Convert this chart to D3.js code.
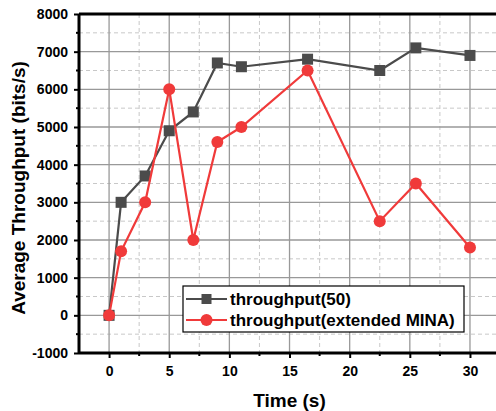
<!DOCTYPE html>
<html>
<head>
<meta charset="utf-8">
<script src="https://cdn.jsdelivr.net/npm/d3@7"></script>
<style>
  body { margin: 0; background: #fff; }
  text { font-family: "Liberation Sans", Arial, sans-serif; font-weight: bold; }
</style>
</head>
<body>
<div id="chart"></div>
<script>
// Data
const times = [0, 1, 3, 5, 7, 9, 11, 16.5, 22.5, 25.5, 30];
const throughput50 = [0, 3000, 3700, 4900, 5400, 6700, 6600, 6800, 6500, 7100, 6900];
const throughputMina = [0, 1700, 3000, 6000, 2000, 4600, 5000, 6500, 2500, 3500, 1800];
const seriesNames = ["throughput(50)", "throughput(extended MINA)"];
const xTicks = [0, 5, 10, 15, 20, 25, 30];
const yTicks = [-1000, 0, 1000, 2000, 3000, 4000, 5000, 6000, 7000, 8000];

const W = 496, H = 411;
const plotLeft = 79, plotTop = 14, plotBottom = 353;

const svg = d3.select("#chart").append("svg")
    .attr("width", W)
    .attr("height", H);

// Scales
const x = d3.scaleLinear().domain([-2.5, 32.5]).range([plotLeft, plotLeft + 35 * 12.03]);
const y = d3.scaleLinear().domain([-1000, 8000]).range([plotBottom, plotTop]);

// Minor grid (dashed)
const xMinor = d3.range(-2.5, 33, 2.5).filter(v => v % 5 !== 0);
const yMinor = d3.range(-500, 8000, 1000);

svg.append("g").selectAll("line").data(xMinor).join("line")
    .attr("x1", d => x(d)).attr("x2", d => x(d))
    .attr("y1", plotTop).attr("y2", plotBottom)
    .attr("stroke", "#c8c8c8").attr("stroke-width", 1)
    .attr("stroke-dasharray", "4,3");

svg.append("g").selectAll("line").data(yMinor).join("line")
    .attr("x1", plotLeft).attr("x2", W)
    .attr("y1", d => y(d)).attr("y2", d => y(d))
    .attr("stroke", "#c8c8c8").attr("stroke-width", 1)
    .attr("stroke-dasharray", "4,3");

// Major grid (solid)
svg.append("g").selectAll("line").data(d3.range(0, 33, 5)).join("line")
    .attr("x1", d => x(d)).attr("x2", d => x(d))
    .attr("y1", plotTop).attr("y2", plotBottom)
    .attr("stroke", "#999").attr("stroke-width", 1.3);

svg.append("g").selectAll("line").data(yTicks.filter(v => v > -1000)).join("line")
    .attr("x1", plotLeft).attr("x2", W)
    .attr("y1", d => y(d)).attr("y2", d => y(d))
    .attr("stroke", "#999").attr("stroke-width", 1.3);

// Series
const line = d3.line()
    .x(d => x(d[0]))
    .y(d => y(d[1]));

const dataBlack = times.map((t, i) => [t, throughput50[i]]);
const dataRed = times.map((t, i) => [t, throughputMina[i]]);
const black = "#4b4b4b", red = "#f03a3a";

svg.append("path")
    .datum(dataBlack)
    .attr("fill", "none")
    .attr("stroke", black)
    .attr("stroke-width", 2.2)
    .attr("d", line);

svg.append("g").selectAll("rect").data(dataBlack).join("rect")
    .attr("x", d => x(d[0]) - 5.5)
    .attr("y", d => y(d[1]) - 5.5)
    .attr("width", 11).attr("height", 11)
    .attr("fill", black);

svg.append("path")
    .datum(dataRed)
    .attr("fill", "none")
    .attr("stroke", red)
    .attr("stroke-width", 2.2)
    .attr("d", line);

svg.append("g").selectAll("circle").data(dataRed).join("circle")
    .attr("cx", d => x(d[0]))
    .attr("cy", d => y(d[1]))
    .attr("r", 6)
    .attr("fill", red);

// Axes
const plain = d => String(d);

const xAxis = svg.append("g")
    .attr("transform", `translate(0, ${plotBottom})`)
    .call(d3.axisBottom(x).tickValues(xTicks).tickFormat(plain).tickSize(5).tickPadding(8));

svg.append("g").selectAll("line").data(xMinor.filter(v => v > -2.5)).join("line")
    .attr("x1", d => x(d)).attr("x2", d => x(d))
    .attr("y1", plotBottom).attr("y2", plotBottom + 3)
    .attr("stroke", "#000").attr("stroke-width", 2);

const yAxis = svg.append("g")
    .attr("transform", `translate(${plotLeft}, 0)`)
    .call(d3.axisLeft(y).tickValues(yTicks).tickFormat(plain).tickSize(5).tickPadding(6));

svg.append("g").selectAll("line").data(yMinor).join("line")
    .attr("x1", plotLeft - 3).attr("x2", plotLeft)
    .attr("y1", d => y(d)).attr("y2", d => y(d))
    .attr("stroke", "#000").attr("stroke-width", 2);

[xAxis, yAxis].forEach(a => {
    a.select(".domain").attr("stroke", "#000").attr("stroke-width", 3);
    a.selectAll(".tick line").attr("stroke", "#000").attr("stroke-width", 2);
    a.selectAll(".tick text")
        .attr("font-size", 14)
        .attr("font-family", "Liberation Sans, Arial, sans-serif")
        .attr("font-weight", "bold")
        .attr("fill", "#000");
});
xAxis.select(".domain").attr("d", `M${plotLeft},0H${W}`);
yAxis.select(".domain").attr("d", `M0,${plotBottom}V${plotTop}`);

// Top frame line
svg.append("line")
    .attr("x1", plotLeft).attr("x2", W)
    .attr("y1", plotTop).attr("y2", plotTop)
    .attr("stroke", "#000").attr("stroke-width", 3);

// Axis titles
svg.append("text")
    .attr("x", x(15))
    .attr("y", 407)
    .attr("text-anchor", "middle")
    .attr("font-size", 19)
    .text("Time (s)");

svg.append("text")
    .attr("transform", `translate(25, 188) rotate(-90)`)
    .attr("text-anchor", "middle")
    .attr("font-size", 19)
    .text("Average Throughput (bits/s)");

// Legend
const legend = svg.append("g").attr("transform", "translate(183, 286)");
legend.append("rect")
    .attr("width", 281).attr("height", 46)
    .attr("fill", "#fff")
    .attr("stroke", "#000").attr("stroke-width", 1.2);

const legendColors = [black, red];
seriesNames.forEach((name, i) => {
    const g = legend.append("g").attr("transform", `translate(0, ${13 + i * 21})`);
    g.append("line")
        .attr("x1", 3).attr("x2", 44)
        .attr("stroke", legendColors[i]).attr("stroke-width", 2.2);
    if (i === 0) {
        g.append("rect").attr("x", 18.5).attr("y", -5).attr("width", 10).attr("height", 10)
            .attr("fill", black);
    } else {
        g.append("circle").attr("cx", 23.5).attr("r", 6).attr("fill", red);
    }
    g.append("text")
        .attr("x", 47)
        .attr("y", 6)
        .attr("font-size", 17)
        .text(name);
});
</script>
</body>
</html>
